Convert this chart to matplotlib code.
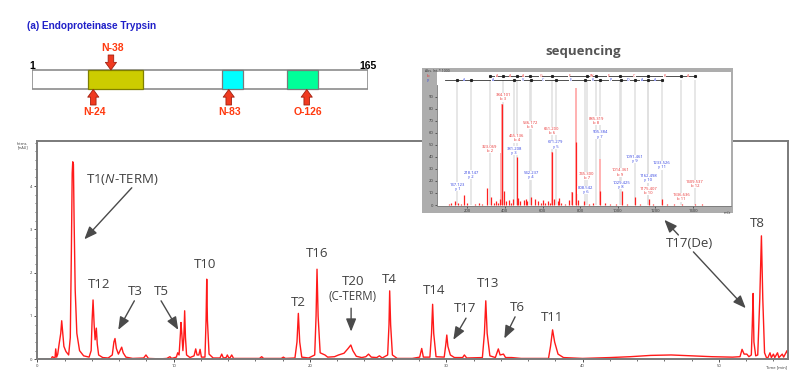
import numpy as np
import matplotlib.pyplot as plt
from matplotlib.patches import Rectangle

plt.rcParams['font.family'] = ['Open Sans', 'DejaVu Sans']
plt.rcParams['mathtext.fontset'] = 'custom'
plt.rcParams['mathtext.rm'] = 'Open Sans'
plt.rcParams['mathtext.it'] = 'Open Sans:italic'

# ---------------- data ----------------
# protein map (residue numbers as drawn)
protein_len = 165
domain_start = [28.6, 93.9, 125.2]
domain_end = [55.4, 104.1, 140.6]
site_labels = ['N-24', 'N-38', 'N-83', 'O-126']
site_pos = [31.0, 39.6, 97.0, 135.0]
site_side = ['below', 'above', 'below', 'below']

# chromatogram trace (time in min, intensity)
ret_time = [0, 1.0, 1.1, 1.3, 1.35, 1.42, 1.5, 1.6, 1.72, 1.79, 1.86, 1.95, 2.1, 2.3,
            2.42, 2.5, 2.56, 2.6, 2.65, 2.7, 2.78, 2.9, 3.1, 3.4, 3.8, 3.95, 4.02, 4.09,
            4.17, 4.24, 4.33, 4.4, 4.5, 4.8, 5.2, 5.5, 5.62, 5.7, 5.8, 5.95, 6.1, 6.19,
            6.3, 6.5, 7.0, 7.8, 7.97, 8.15, 9.0, 9.5, 9.73, 9.85, 10.2, 10.3, 10.4, 10.5,
            10.54, 10.6, 10.68, 10.75, 10.81, 10.87, 10.95, 11.2, 11.5, 11.62, 11.72,
            11.85, 11.94, 12.04, 12.3, 12.38, 12.43, 12.48, 12.6, 12.9, 13.4, 13.53,
            13.65, 13.85, 13.94, 14.05, 14.15, 14.26, 14.4, 15.0, 16.3, 16.46, 16.6,
            17.9, 18.05, 18.2, 18.9, 19.05, 19.15, 19.25, 19.4, 19.9, 20.35, 20.45,
            20.52, 20.6, 20.75, 21.1, 21.3, 21.8, 22.1, 22.5, 22.8, 23.0, 23.15, 23.4,
            23.8, 24.1, 24.3, 24.5, 24.9, 25.1, 25.3, 25.7, 25.8, 25.85, 25.92, 26.05,
            26.4, 27.5, 28.05, 28.2, 28.32, 28.8, 28.92, 29.0, 29.08, 29.25, 29.85,
            29.97, 30.04, 30.12, 30.3, 30.6, 31.2, 31.33, 31.5, 32.65, 32.8, 32.9, 33.0,
            33.2, 33.6, 33.82, 33.95, 34.2, 34.35, 34.8, 35.5, 37.5, 37.65, 37.8, 37.95,
            38.2, 38.6, 40.0, 42.0, 43.5, 45.0, 46.5, 48.0, 49.5, 51.0, 51.55, 51.7,
            51.85, 52.05, 52.2, 52.38, 52.45, 52.51, 52.57, 52.7, 52.85, 53.0, 53.12,
            53.22, 53.35, 53.5, 53.6, 53.75, 53.85, 54.0, 54.1, 54.3, 54.4, 54.65,
            54.75, 55.0, 55.1]
absorb = [0, 0.0, 0.06, 0.03, 0.24, 0.05, 0.12, 0.35, 0.6, 0.89, 0.62, 0.3, 0.18, 0.1,
          0.5, 2.5, 4.3, 4.56, 4.5, 3.2, 1.6, 0.6, 0.2, 0.08, 0.05, 0.2, 0.9, 1.37,
          0.8, 0.45, 0.72, 0.35, 0.1, 0.04, 0.03, 0.1, 0.4, 0.48, 0.25, 0.12, 0.22, 0.28,
          0.15, 0.05, 0.02, 0.03, 0.1, 0.02, 0.01, 0.02, 0.06, 0.02, 0.05, 0.15, 0.1, 0.6,
          0.85, 0.6, 0.2, 0.5, 1.12, 0.5, 0.1, 0.04, 0.08, 0.24, 0.1,
          0.1, 0.23, 0.05, 0.05, 0.9, 1.85, 0.9, 0.12, 0.03, 0.03, 0.12,
          0.03, 0.04, 0.1, 0.03, 0.04, 0.1, 0.02, 0.02, 0.02, 0.06, 0.02,
          0.02, 0.05, 0.02, 0.03, 0.4, 1.06, 0.4, 0.05, 0.03, 0.1, 1.0,
          2.08, 1.0, 0.15, 0.1, 0.05, 0.06, 0.1, 0.14, 0.25, 0.33, 0.2, 0.07,
          0.04, 0.06, 0.12, 0.05, 0.04, 0.08, 0.03, 0.1, 0.8, 1.58, 0.8, 0.1,
          0.02, 0.02, 0.05, 0.25, 0.05, 0.05, 0.6, 1.27, 0.6, 0.06, 0.05,
          0.35, 0.56, 0.3, 0.1, 0.04, 0.04, 0.1, 0.03, 0.04, 0.6, 1.35, 0.6,
          0.08, 0.04, 0.24, 0.1, 0.12, 0.04, 0.04, 0.02, 0.02, 0.3, 0.68, 0.4,
          0.12, 0.04, 0.02, 0.04, 0.06, 0.09, 0.1, 0.08, 0.06, 0.05, 0.06, 0.23,
          0.12, 0.12, 0.06, 0.1, 0.8, 1.52, 0.4, 0.08, 0.1, 1.4, 2.85,
          1.4, 0.15, 0.03, 0.04, 0.15, 0.04, 0.12, 0.04, 0.15, 0.04, 0.12,
          0.05, 0.2, 0.05]

# peak labels and arrows
peak_names = ['T1($\\mathit{N}$-TERM)', 'T12', 'T3', 'T5', 'T10', 'T2', 'T16', 'T20',
              'T4', 'T14', 'T17', 'T13', 'T6', 'T11', 'T17(De)', 'T8']
peak_text_t = [6.25, 4.53, 7.2, 9.13, 12.3, 19.18, 20.56, 23.18, 25.8, 29.14, 31.38,
               33.04, 35.19, 37.76, 47.81, 52.84]
peak_text_i = [4.14, 1.72, 1.56, 1.56, 2.2, 1.32, 2.45, 1.79, 1.85, 1.58, 1.18, 1.76,
               1.19, 0.97, 2.68, 3.14]
arrow_tail = [(6.93, 3.96), (7.12, 1.35), (9.08, 1.35), (23.02, 1.18), (31.45, 0.95),
              (35.05, 0.98), (47.03, 2.87), (48.13, 2.48)]
arrow_tip = [(3.45, 2.77), (5.94, 0.68), (10.34, 0.68), (23.02, 0.64), (30.52, 0.45),
             (34.26, 0.48), (46.0, 3.22), (51.97, 1.18)]

# MS/MS inset
b_mz = ['323.069', '384.101', '465.136', '536.172', '651.200', '745.300', '885.319',
        '1014.361', '1175.407', '1336.636', '1409.537']
b_ion = ['b 2', 'b 3', 'b 4', 'b 5', 'b 6', 'b 7', 'b 8', 'b 9', 'b 10', 'b 11', 'b 12']
b_x = [320.7, 391.7, 462.8, 533.5, 649, 835, 884.6, 1014, 1163, 1337, 1411]
b_y = [46.5, 89.5, 55.4, 66.5, 61.5, 24.1, 70, 27, 11.9, 6.6, 17.5]
y_mz = ['147.123', '218.147', '381.208', '542.237', '671.279', '808.542', '905.384',
        '1029.425', '1091.461', '1162.498', '1233.526']
y_ion = ['y 1', 'y 2', 'y 3', 'y 4', 'y 5', 'y 6', 'y 7', 'y 8', 'y 9', 'y 10', 'y 11']
y_x = [147, 219.7, 450, 538.8, 670, 827.8, 906, 1019, 1092, 1163, 1234]
y_y = [15.2, 25, 45, 24.7, 50.4, 12.5, 58.7, 16.6, 38.2, 22.2, 33]

stick_mz = [100, 115, 134, 150, 165, 182, 200, 240, 260, 280, 303, 324, 340, 355, 365,
            372, 384, 395, 405, 420, 430, 445, 463, 470, 480, 500, 510, 520, 541, 560,
            575, 590, 600, 615, 630, 640, 652, 660, 680, 690, 700, 720, 740, 757, 777,
            790, 820, 850, 870, 907, 930, 960, 990, 1021, 1050, 1092, 1120, 1165, 1190,
            1236, 1260, 1300, 1340, 1410, 1450]
stick_h = [1, 2, 3, 2, 1, 8, 2, 1, 2, 1, 14, 7, 2, 3, 2, 5, 84, 12, 3, 4, 2, 5, 40, 6, 3,
           4, 5, 3, 7, 5, 3, 2, 4, 2, 3, 2, 44, 5, 3, 6, 2, 1, 4, 11, 52, 4, 3, 1, 2, 12,
           2, 1, 1, 12, 1, 7, 1, 5, 1, 5, 1, 1, 1, 1, 1]
pale_mz = [377, 384, 652, 757, 777, 907]
pale_h = [43, 84, 44, 11, 97.5, 38]

b_seq = ['A', 'A', 'A', 'G', 'F', 'W', 'E', 'C', 'K', 'A']
y_seq = ['A', 'A', 'V', 'C', 'E', 'K', 'P', 'D', 'A', 'A']

# ---------------- figure ----------------
W, H = 805, 389
fig = plt.figure(figsize=(W / 100, H / 100), dpi=100)


def px_box(x0, y0, x1, y1):
    return [x0 / W, 1 - y1 / H, (x1 - x0) / W, (y1 - y0) / H]


arial = ['Liberation Sans', 'DejaVu Sans']
fig.text(26.7 / W, 1 - 26 / H, '(a) Endoproteinase Trypsin', color='#1f1fc8',
         fontsize=7.2, fontweight='bold', family=arial, ha='left', va='center')

# protein map
ax_map = fig.add_axes(px_box(31.7, 40, 368.3, 120))
ax_map.set_xlim(1, protein_len)
ax_map.set_ylim(120, 40)
ax_map.axis('off')
ax_map.add_patch(Rectangle((1, 70), protein_len - 1, 19.3, fc='white', ec='#8c8c8c', lw=1.2))
for s, e, c, ec in zip(domain_start, domain_end, ['#cccc00', '#00ffff', '#00ff99'],
                       ['#7f7f00', '#7a7a7a', '#7a7a7a']):
    ax_map.add_patch(Rectangle((s, 70), e - s, 19.3, fc=c, ec=ec, lw=0.9))
ax_map.text(1.5, 66, '1', fontsize=7.5, fontweight='bold', family=arial, ha='center', va='center')
ax_map.text(protein_len, 66, '165', fontsize=7.5, fontweight='bold', family=arial,
            ha='center', va='center')
for lab, p, side in zip(site_labels, site_pos, site_side):
    if side == 'below':
        tip, tail, ty = (p, 89.5), (p, 105), 111.7
    else:
        tip, tail, ty = (p, 70), (p, 55), 48.3
    ax_map.annotate('', xy=tip, xytext=tail,
                    arrowprops=dict(arrowstyle='simple,head_length=0.55,head_width=0.8,tail_width=0.4',
                                    fc='#f03a20', ec='#a02010', lw=0.6, mutation_scale=10,
                                    shrinkA=0, shrinkB=0))
    ax_map.text(p + 0.6, ty, lab, color='#ff3a10', fontsize=7.5, fontweight='bold',
                family=arial, ha='center', va='center')

# chromatogram
ax = fig.add_axes(px_box(37.3, 141, 788, 359.3))
ax.plot(ret_time, absorb, color='#ff1a1a', lw=1.0)
ax.set_xlim(0, 55.07)
ax.set_ylim(0, 5.04)
ax.set_xticks(np.arange(0, 51, 10))
ax.set_xticks(np.arange(0, 55, 2), minor=True)
ax.set_yticks(np.arange(0, 5, 1))
ax.set_yticks(np.arange(0, 5.01, 0.2), minor=True)
ax.tick_params(labelsize=3, length=2.5, width=0.6, pad=1, colors='#333333')
ax.tick_params(which='minor', length=1.5, width=0.5, colors='#333333')
for sp in ax.spines.values():
    sp.set_color('#7a7a7a')
    sp.set_linewidth(1.4)
ax.text(0.985, -0.035, 'Time [min]', transform=ax.transAxes, fontsize=3,
        ha='center', va='center', color='#333333')
ax.text(-0.012, 0.995, 'Intens.\n[mAU]', transform=ax.transAxes, fontsize=2.6,
        ha='right', va='top', color='#333333', linespacing=0.9)

for name, t, i in zip(peak_names, peak_text_t, peak_text_i):
    ax.text(t, i, name, fontsize=9.5, color='#404040', ha='center', va='center')
    if name == 'T20':
        ax.text(t - 0.05, i - 0.33, '(C-TERM)', fontsize=8.3, color='#404040',
                ha='center', va='center')
for tail, tip in zip(arrow_tail, arrow_tip):
    ax.annotate('', xy=tip, xytext=tail,
                arrowprops=dict(arrowstyle='-|>,head_length=0.55,head_width=0.22',
                                color='#4a4a4a', lw=1.0, mutation_scale=14,
                                shrinkA=0, shrinkB=0))

# inset: MS/MS spectrum
ax_bg = fig.add_axes(px_box(422, 68, 733, 213))
ax_bg.set_facecolor('#adadad')
ax_bg.set_xticks([])
ax_bg.set_yticks([])
for sp in ax_bg.spines.values():
    sp.set_visible(False)
ax_bg.set_zorder(5)
fig.text(583 / W, 1 - 52 / H, 'sequencing', fontsize=9.5, fontweight='bold',
         color='#555555', ha='center', va='center')
fig.text(425 / W, 1 - 71 / H, 'Abs. Int. * 1000', fontsize=2.5, color='#333333',
         ha='left', va='center', zorder=8)

ax_in = fig.add_axes(px_box(437, 72, 731, 206))
ax_in.set_zorder(6)
ax_in.set_xlim(38.8, 1602.7)
ax_in.set_ylim(-0.8, 110.5)
ax_in.set_facecolor('white')
for sp in ['top', 'right']:
    ax_in.spines[sp].set_visible(False)
ax_in.spines['left'].set_bounds(0, 100)
for sp in ['left', 'bottom']:
    ax_in.spines[sp].set_color('#777777')
    ax_in.spines[sp].set_linewidth(0.6)
ax_in.set_xticks(np.arange(200, 1401, 200))
ax_in.set_yticks(np.arange(0, 91, 10))
ax_in.tick_params(labelsize=3, length=1.5, width=0.5, pad=1, colors='#333333')
ax_in.text(1.0, -0.035, 'm/z', transform=ax_in.transAxes, fontsize=3, ha='right',
           va='top', color='#333333')

for x in b_x + y_x:
    ax_in.vlines(x, 0, 104, color='#e0e0e0', lw=1.1, zorder=1)
ax_in.bar(pale_mz, pale_h, width=9, color='#ffb3b3', zorder=2)
ax_in.vlines(stick_mz, 0, stick_h, color='#ff2020', lw=0.9, zorder=3)
for x, y, m, n in zip(b_x, b_y, b_mz, b_ion):
    ax_in.text(x, y, m + '\n' + n, fontsize=3.0, color='#e83030', ha='center', va='center',
               linespacing=1.1, zorder=4,
               bbox=dict(fc='white', ec='none', pad=0.2))
for x, y, m, n in zip(y_x, y_y, y_mz, y_ion):
    ax_in.text(x, y, m + '\n' + n, fontsize=3.0, color='#3040e0', ha='center', va='center',
               linespacing=1.1, zorder=4,
               bbox=dict(fc='white', ec='none', pad=0.2))

# sequence ladders
b_marks = sorted(b_x)
y_marks = sorted(y_x)
ax_in.plot([b_marks[0], b_marks[-1]], [107.2, 107.2], color='#333333', lw=0.6)
ax_in.plot(b_marks, [107.2] * len(b_marks), 's', color='#222222', ms=1.2)
ax_in.plot([80, y_marks[-1]], [103.9, 103.9], color='#333333', lw=0.6)
ax_in.plot(y_marks, [103.9] * len(y_marks), 's', color='#222222', ms=1.2)
for a, b, s in zip(b_marks[:-1], b_marks[1:], b_seq):
    ax_in.text((a + b) / 2, 107.2, s, fontsize=2.6, color='#e83030', ha='center',
               va='center', bbox=dict(fc='white', ec='none', pad=0.1))
for a, b, s in zip(y_marks[:-1], y_marks[1:], y_seq):
    ax_in.text((a + b) / 2, 103.9, s, fontsize=2.6, color='#3040e0', ha='center',
               va='center', bbox=dict(fc='white', ec='none', pad=0.1))
fig.text(428 / W, 1 - 76 / H, 'b', fontsize=3, color='#e83030', ha='center', va='center', zorder=8)
fig.text(428 / W, 1 - 80 / H, 'y', fontsize=3, color='#3040e0', ha='center', va='center', zorder=8)

fig.savefig('out.png', dpi=100)
